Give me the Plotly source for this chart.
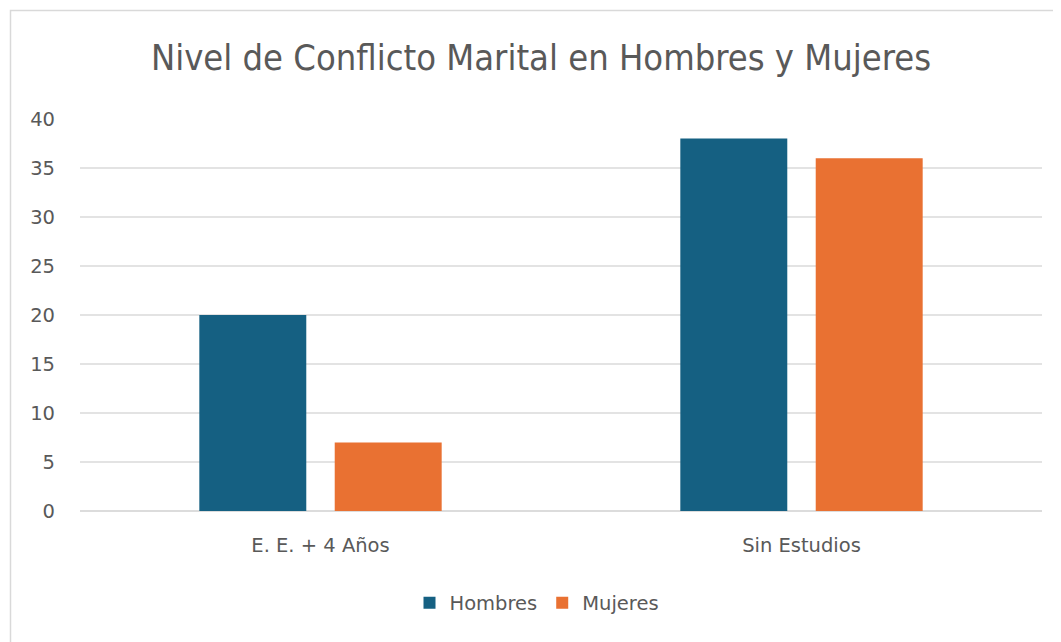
import plotly.graph_objects as go

categories = ["E. E. + 4 Años", "Sin Estudios"]
hombres = [20, 38]
mujeres = [7, 36]
series_names = ["Hombres", "Mujeres"]
title_text = "Nivel de Conflicto Marital en Hombres y Mujeres"
y_ticks = [0, 5, 10, 15, 20, 25, 30, 35, 40]

OFF = 8  # page body margin
W, H = 1061, 642
L, T = 80 - OFF, 119 - OFF
pw, ph = 962, 392
R, B = W - L - pw, H - T - ph

def py(yref_px):
    """reference pixel y -> paper coordinate"""
    return (119 + ph - yref_px) / ph

def px(xref_px):
    return (xref_px - 80) / pw

fig = go.Figure()
fig.add_trace(go.Bar(name=series_names[0], x=categories, y=hombres,
                     marker=dict(color="#156082", line=dict(width=0))))
fig.add_trace(go.Bar(name=series_names[1], x=categories, y=mujeres,
                     marker=dict(color="#E97132", line=dict(width=0))))

font_fam = "DejaVu Sans, Arial, sans-serif"
fig.update_layout(
    width=W, height=H,
    margin=dict(l=L, r=R, t=T, b=B, pad=0),
    paper_bgcolor="white", plot_bgcolor="white",
    barmode="group", bargap=0.437, bargroupgap=0.21,
    title=dict(text=title_text, x=(541 - OFF) / W, xanchor="center", xref="container",
               y=1 - (57 - OFF) / H, yanchor="middle", yref="container",
               font=dict(family="DejaVu Sans Condensed, Liberation Sans Narrow, sans-serif",
                         size=36, color="#595959")),
    font=dict(family=font_fam, size=19.5, color="#595959"),
    xaxis=dict(showgrid=False, showline=False, zeroline=False, ticks="",
               tickfont=dict(size=19.5, color="#595959"), ticklabelstandoff=20),
    yaxis=dict(range=[0, 40], tickvals=y_ticks, showgrid=True, gridcolor="#e3e3e3",
               gridwidth=2, zeroline=True, zerolinecolor="#dcdcdc", zerolinewidth=2,
               showline=False, ticks="", tickfont=dict(size=19.5, color="#595959"),
               ticklabelstandoff=24),
    legend=dict(orientation="h", x=px(537), xanchor="center",
                y=py(603), yanchor="middle",
                font=dict(size=19.5, color="#595959"), itemwidth=30,
                bgcolor="rgba(0,0,0,0)"),
    shapes=[dict(type="rect", xref="paper", yref="paper",
                 x0=px(10.5), x1=px(1075),
                 y0=py(670), y1=py(10.5),
                 line=dict(color="#d9d9d9", width=1.5), layer="below")],
)

fig.write_html("out.html")
